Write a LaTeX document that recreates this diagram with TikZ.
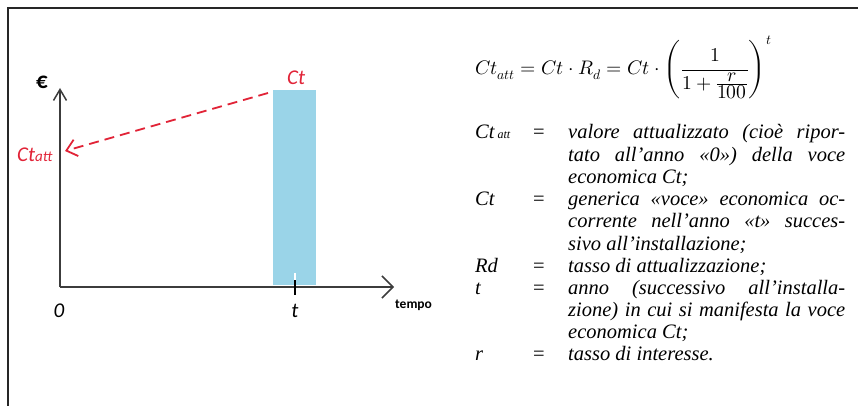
\documentclass[tikz,border=0pt]{standalone}
\usepackage{fontspec}
\usepackage{unicode-math}
\setmathfont{Latin Modern Math}
\newfontfamily\calib{Carlito}
\newfontfamily\tnr{Liberation Serif}
\usetikzlibrary{arrows.meta}
\definecolor{redc}{RGB}{225,35,55}
\definecolor{barblue}{RGB}{154,212,232}
\definecolor{axisgray}{RGB}{60,60,60}
\definecolor{framegray}{RGB}{38,38,38}
\tikzset{
  axisline/.style={draw=axisgray, line width=1.5pt},
  redlbl/.style={text=redc, font=\calib\itshape\fontsize{21}{24}\selectfont, inner sep=0pt, anchor=base west},
  axislbl/.style={font=\calib\itshape\fontsize{21}{24}\selectfont, inner sep=0pt, anchor=base},
  deflbl/.style={font=\tnr\itshape\fontsize{20.5}{22}\selectfont, inner sep=0pt, anchor=base west},
  defeq/.style={font=\tnr\fontsize{20.5}{22}\selectfont, inner sep=0pt, anchor=base},
  deftxt/.style={font=\tnr\itshape\fontsize{20.5}{22}\selectfont, inner sep=0pt, anchor=base west},
}
\newcommand{\jline}[1]{\makebox[277pt][s]{#1}}
\begin{document}
\begin{tikzpicture}[x=1pt,y=-1pt]
\useasboundingbox (0,0) rectangle (858,406);
% frame
\draw[draw=framegray, line width=2pt] (7.7,407) -- (7.7,8.5) -- (859,8.5);
% bar
\fill[barblue] (273,90) rectangle (316,285);
% axes
\coordinate (origin) at (60,287);
\coordinate (ytip) at (60,88);
\coordinate (xtip) at (394,287);
\draw[axisline, -{Straight Barb[length=11pt,width=13pt,line width=1.5pt]}] (origin) -- (ytip);
\draw[axisline, -{Straight Barb[length=11pt,width=22pt,line width=1.5pt]}] (origin) -- (xtip);
% tick
\coordinate (tickw1) at (295,273);
\coordinate (tickw2) at (295,280);
\coordinate (tickb2) at (295,295);
\draw[white, line width=2.5pt] (tickw1) -- (tickw2);
\draw[black, line width=1.5pt] (tickw2) -- (tickb2);
% dashed arrow
\coordinate (ctstart) at (268,93);
\coordinate (ctend) at (65,151);
\draw[redc, line width=1.8pt, dash pattern=on 10pt off 6pt, -{Straight Barb[length=10pt,width=17pt,line width=1.8pt]}] (ctstart) -- (ctend);
% chart labels
\node[font=\calib\bfseries\fontsize{23}{26}\selectfont, inner sep=0pt, anchor=base west] (euro) at (36,89) {€};
\node[redlbl] (ct) at (287,85) {Ct};
\node[redlbl] (ctatt) at (17,161) {Ct{\fontsize{15}{16}\selectfont att}};
\node[axislbl] (zero) at (59,317) {0};
\node[axislbl] (tlbl) at (295,317) {t};
\node[font=\calib\bfseries\fontsize{13.5}{16}\selectfont, inner sep=0pt, anchor=base west] (tempo) at (395,308) {tempo};
% formula
\node[inner sep=0pt, anchor=base west, font=\fontsize{19.6}{24}\selectfont] (formula) at (475,75)
  {$\displaystyle Ct_{att} = Ct\cdot R_d = Ct\cdot\left(\frac{1}{1+\frac{\textstyle r}{\textstyle 100}}\right)^{t}$};
% definitions
\node[deflbl] (l1) at (475,139) {Ct\hspace{3pt}{\fontsize{12}{14}\selectfont att}};
\node[defeq] (e1) at (539,139) {=};
\node[deftxt] (d1) at (568,139) {\jline{valore attualizzato (cioè ripor-}};
\node[deftxt] (d2) at (568,161) {\jline{tato all’anno «0») della voce}};
\node[deftxt] (d3) at (568,183) {economica Ct;};
\node[deflbl] (l2) at (475,205) {Ct};
\node[defeq] (e2) at (539,205) {=};
\node[deftxt] (d4) at (568,205) {\jline{generica «voce» economica oc-}};
\node[deftxt] (d5) at (568,227) {\jline{corrente nell’anno «t» succes-}};
\node[deftxt] (d6) at (568,250) {sivo all’installazione;};
\node[deflbl] (l3) at (475,272) {Rd};
\node[defeq] (e3) at (539,272) {=};
\node[deftxt] (d7) at (568,272) {tasso di attualizzazione;};
\node[deflbl] (l4) at (475,294) {t};
\node[defeq] (e4) at (539,294) {=};
\node[deftxt] (d8) at (568,294) {\jline{anno (successivo all’installa-}};
\node[deftxt] (d9) at (568,316) {\jline{zione) in cui si manifesta la voce}};
\node[deftxt] (d10) at (568,338) {economica Ct;};
\node[deflbl] (l5) at (475,360) {r};
\node[defeq] (e5) at (539,360) {=};
\node[deftxt] (d11) at (568,360) {tasso di interesse.};
\end{tikzpicture}
\end{document}
